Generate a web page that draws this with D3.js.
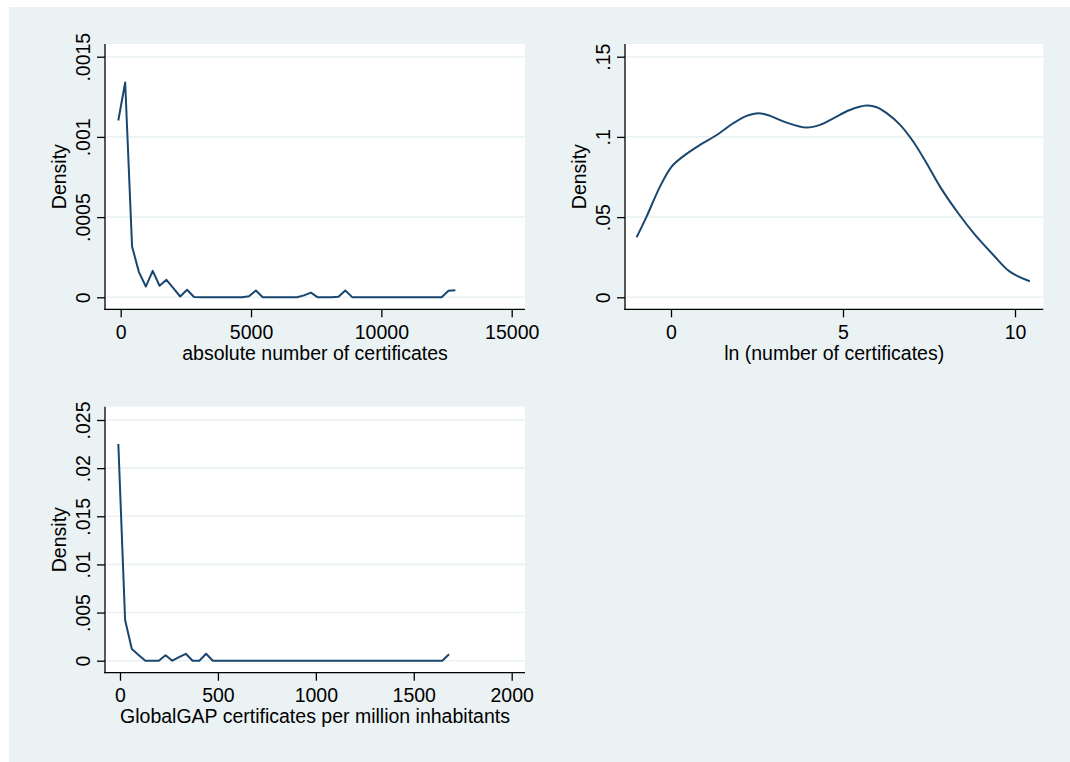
<!DOCTYPE html>
<html>
<head>
<meta charset="utf-8">
<script src="https://cdn.jsdelivr.net/npm/d3@7/dist/d3.min.js"></script>
<style>
html,body{margin:0;padding:0;background:#ffffff;}
svg text{font-family:"Liberation Sans",Arial,sans-serif;fill:#000;}
</style>
</head>
<body>
<svg id="chart" width="1070" height="762"></svg>
<script>
// ---------- DATA ----------
// Panel 1: absolute number of certificates
const absX = [-92,172,436,700,964,1228,1491,1755,2019,2283,2547,2811,3075,3339,3603,3867,4130,4394,4658,4922,5186,5450,5714,5978,6242,6506,6769,7033,7297,7561,7825,8089,8353,8617,8881,9145,9408,9672,9936,10200,10464,10728,10992,11256,11520,11784,12047,12311,12575,12839];
const absDensity = [0.001102,0.001339,0.000317,0.000157,0.000067,0.000165,0.000072,0.000109,0.000057,0.000005,0.000047,0.000002,0,0,0,0,0,0,0,0.000006,0.000042,0,0,0,0,0,0,0.000012,0.000029,0,0,0,0.000003,0.000042,0.000001,0,0,0,0,0,0,0,0,0,0,0,0,0,0.000041,0.000044];
const absXTicks = [0,5000,10000,15000];
const absXTickLabels = ["0","5000","10000","15000"];
const absYTicks = [0,0.0005,0.001,0.0015];
const absYTickLabels = ["0",".0005",".001",".0015"];

// Panel 2: ln(number of certificates)
const lnX = [-1.0,-0.71,-0.32,0.02,0.41,0.84,1.33,1.81,2.20,2.54,2.88,3.36,3.94,4.33,4.72,5.20,5.69,5.98,6.27,6.66,7.04,7.43,7.82,8.35,8.84,9.37,9.85,10.43];
const lnDensity = [0.0374,0.0503,0.0690,0.0815,0.0888,0.0950,0.1012,0.1085,0.1131,0.1148,0.1131,0.1089,0.1058,0.1075,0.1116,0.1168,0.1195,0.1185,0.1148,0.1075,0.0971,0.0836,0.0690,0.0524,0.0389,0.0264,0.0160,0.0100];
const lnXTicks = [0,5,10];
const lnXTickLabels = ["0","5","10"];
const lnYTicks = [0,0.05,0.1,0.15];
const lnYTickLabels = ["0",".05",".1",".15"];

// Panel 3: GlobalGAP certificates per million inhabitants
const pcX = [-8.5,26.0,60.4,94.9,129.3,163.8,198.3,232.7,267.2,301.6,336.1,370.6,405.0,439.5,473.9,508.4,542.9,577.3,611.8,646.2,680.7,715.2,749.6,784.1,818.5,853.0,887.5,921.9,956.4,990.8,1025.3,1059.8,1094.2,1128.7,1163.1,1197.6,1232.1,1266.5,1301.0,1335.4,1369.9,1404.4,1438.8,1473.3,1507.7,1542.2,1576.7,1611.1,1645.6,1680.0];
const pcDensity = [0.02251,0.00422,0.00121,0.00060,0,0,0,0.00057,0,0.00036,0.00072,0,0,0.00072,0,0,0,0,0,0,0,0,0,0,0,0,0,0,0,0,0,0,0,0,0,0,0,0,0,0,0,0,0,0,0,0,0,0,0,0.00066];
const pcXTicks = [0,500,1000,1500,2000];
const pcXTickLabels = ["0","500","1000","1500","2000"];
const pcYTicks = [0,0.005,0.01,0.015,0.02,0.025];
const pcYTickLabels = ["0",".005",".01",".015",".02",".025"];

const yTitle = "Density";
const xTitles = ["absolute number of certificates","ln (number of certificates)","GlobalGAP certificates per million inhabitants"];

// ---------- LAYOUT ----------
const BG = "#eaf2f3";
const LINE = "#1a476f";
const FS = 19.5;

const svg = d3.select("#chart");
svg.append("rect").attr("x",9).attr("y",7).attr("width",1061).attr("height",755).attr("fill",BG);

const panels = [
  {x:absX, y:absDensity, xt:absXTicks, xtl:absXTickLabels, yt:absYTicks, ytl:absYTickLabels, title:xTitles[0],
   rect:[105,44,525,309.3], xDom:[0,15000], xRng:[120.7,511.7], yDom:[0,0.0015], yRng:[297.3,56.7], curve:d3.curveLinear},
  {x:lnX, y:lnDensity, xt:lnXTicks, xtl:lnXTickLabels, yt:lnYTicks, ytl:lnYTickLabels, title:xTitles[1],
   rect:[625,44,1043.3,309.3], xDom:[0,10], xRng:[671,1015], yDom:[0,0.15], yRng:[297.3,56.7], curve:d3.curveCatmullRom},
  {x:pcX, y:pcDensity, xt:pcXTicks, xtl:pcXTickLabels, yt:pcYTicks, ytl:pcYTickLabels, title:xTitles[2],
   rect:[105,406.7,525,672.7], xDom:[0,2000], xRng:[120,511.7], yDom:[0,0.025], yRng:[660.7,420], curve:d3.curveLinear}
];

panels.forEach(p => {
  const [l,t,r,b] = p.rect;
  const xs = d3.scaleLinear().domain(p.xDom).range(p.xRng);
  const ys = d3.scaleLinear().domain(p.yDom).range(p.yRng);
  const g = svg.append("g");

  g.append("rect").attr("x",l).attr("y",t).attr("width",r-l).attr("height",b-t).attr("fill","#ffffff");

  // gridlines
  g.selectAll(".grid").data(p.yt).enter().append("line")
    .attr("x1",l).attr("x2",r).attr("y1",d=>ys(d)).attr("y2",d=>ys(d))
    .attr("stroke",BG).attr("stroke-width",1.6);

  // y axis
  const yAxis = d3.axisLeft(ys).tickValues(p.yt).tickSize(8).tickFormat((d,i)=>p.ytl[i]);
  const ya = g.append("g").attr("transform",`translate(${l},0)`).call(yAxis);
  ya.select(".domain").remove();
  ya.selectAll(".tick line").attr("stroke","#000").attr("stroke-width",1.3);
  ya.selectAll(".tick text").remove();
  ya.selectAll(".tick").append("text")
    .attr("transform","translate(-15,0) rotate(-90)")
    .attr("text-anchor","middle").attr("font-size",FS)
    .text((d,i)=>p.ytl[i]);
  g.append("line").attr("x1",l).attr("x2",l).attr("y1",t).attr("y2",b+0.6).attr("stroke","#000").attr("stroke-width",1.3);

  // x axis
  const xAxis = d3.axisBottom(xs).tickValues(p.xt).tickSize(8).tickFormat((d,i)=>p.xtl[i]);
  const xa = g.append("g").attr("transform",`translate(0,${b})`).call(xAxis);
  xa.select(".domain").remove();
  xa.selectAll(".tick line").attr("stroke","#000").attr("stroke-width",1.3);
  xa.selectAll(".tick text").remove();
  xa.selectAll(".tick").append("text")
    .attr("y",29.5).attr("text-anchor","middle").attr("font-size",FS)
    .text((d,i)=>p.xtl[i]);
  g.append("line").attr("x1",l-0.6).attr("x2",r).attr("y1",b).attr("y2",b).attr("stroke","#000").attr("stroke-width",1.3);

  // titles
  g.append("text").attr("x",(l+r)/2).attr("y",b+50.5).attr("text-anchor","middle").attr("font-size",FS).text(p.title);
  g.append("text").attr("transform",`translate(${l-39},${(t+b)/2}) rotate(-90)`)
    .attr("text-anchor","middle").attr("font-size",FS).text(yTitle);

  // density line
  const line = d3.line().x((d,i)=>xs(p.x[i])).y(d=>ys(d)).curve(p.curve);
  g.append("path").datum(p.y).attr("d",line).attr("fill","none")
    .attr("stroke",LINE).attr("stroke-width",2).attr("stroke-linejoin","round");
});
</script>
</body>
</html>
